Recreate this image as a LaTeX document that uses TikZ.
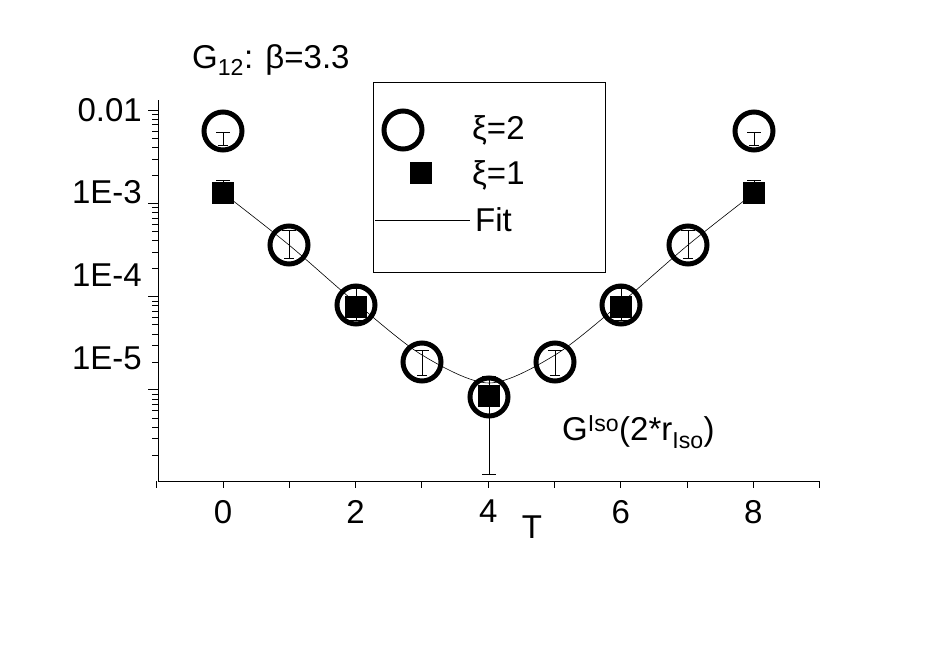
\documentclass[tikz,border=0pt]{standalone}
\usepackage{fontspec}
\setmainfont{Liberation Sans}
\begin{document}
\begin{tikzpicture}[x=1pt,y=-1pt,
  lbl/.style={font=\fontsize{33}{36}\selectfont,inner sep=0pt},
  circ/.style={circle,draw,line width=5pt,minimum size=38pt,inner sep=0pt},
  sq/.style={fill=black,minimum size=22pt,inner sep=0pt},
  ax/.style={line width=1pt}]
\useasboundingbox (0,0) rectangle (945,653);
% axes
\draw[ax] (158,100) -- (158,481) -- (820,481);
\foreach \d in {0,1,2,3}{
  \pgfmathsetmacro\yy{110+93.3*\d}
  \draw[ax] (148,\yy) -- (158,\yy);
  \foreach \k in {2,...,9}{
    \pgfmathsetmacro\ym{110+93.3*\d+93.3*(1-log10(\k))}
    \draw (152,\ym) -- (158,\ym);}
}
\foreach \k in {2,...,9}{
  \pgfmathsetmacro\ym{110+93.3*4+93.3*(1-log10(\k))}
  \pgfmathparse{\ym<481?1:0}
  \ifnum\pgfmathresult=1 \draw (152,\ym) -- (158,\ym);\fi}
\foreach \t in {-1,...,9}{
  \pgfmathsetmacro\xx{223+66.3*\t}
  \draw[ax] (\xx,481) -- (\xx,488);}
\foreach \t in {0,2,4,6,8}{
  \pgfmathsetmacro\xx{223+66.3*\t}
  \node[lbl,anchor=north] (xt\t) at (\xx,500) {\t};}
\node[lbl,anchor=east] (y1) at (142,110) {0.01};
\node[lbl,anchor=east] (y2) at (142,192) {1E-3};
\node[lbl,anchor=east] (y3) at (142,275) {1E-4};
\node[lbl,anchor=east] (y4) at (142,358) {1E-5};
\node[lbl] (tl) at (532,527) {T};
\node[lbl,anchor=west] (title) at (192,60) {G\textsubscript{12}: β=3.3};
\node[lbl,anchor=west] (gl) at (562,432) {G\textsuperscript{Iso}(2*r\textsubscript{Iso})};
% fit
\draw[line width=0.6pt] plot[smooth] coordinates {(223,193)(289,245)(356,303)(422,355)(489,383)(555,355)(621,303)(688,245)(754,193)};
% error bars
\foreach \x/\a/\b in {223/180/197,754/180/197,489/376/474,356/288/320,621/288/320}{
  \draw (\x,\a) -- (\x,\b); \draw (\x-7,\a) -- (\x+7,\a); \draw (\x-7,\b) -- (\x+7,\b);}
\foreach \x/\a/\b in {223/132/145,754/132/145,289/230/258,688/230/258,422/350/375,555/350/375}{
  \draw (\x,\a) -- (\x,\b); \draw (\x-7,\a) -- (\x+7,\a); \draw (\x-5,\b) -- (\x+5,\b);}
% circles
\foreach \x/\y [count=\i] in {223/131,289/245,356/305,422/362,489/397,555/362,621/305,688/245,754/131}
  \node[circ] (c\i) at (\x,\y) {};
\foreach \x/\y [count=\i] in {223/193,356/307,489/396,621/307,754/193}
  \node[sq] (s\i) at (\x,\y) {};
% legend
\draw[line width=1pt] (373,82) rectangle (605,272);
\node[circ] (lc) at (403,130) {};
\node[lbl,anchor=west] (l1) at (472,130) {ξ=2};
\node[sq] (ls) at (421,173) {};
\node[lbl,anchor=west] (l2) at (472,175) {ξ=1};
\coordinate (la) at (375,220); \coordinate (lb) at (470,220);
\draw[line width=0.8pt] (la) -- (lb);
\node[lbl,anchor=west] (l3) at (475,220) {Fit};
\end{tikzpicture}
\end{document}
